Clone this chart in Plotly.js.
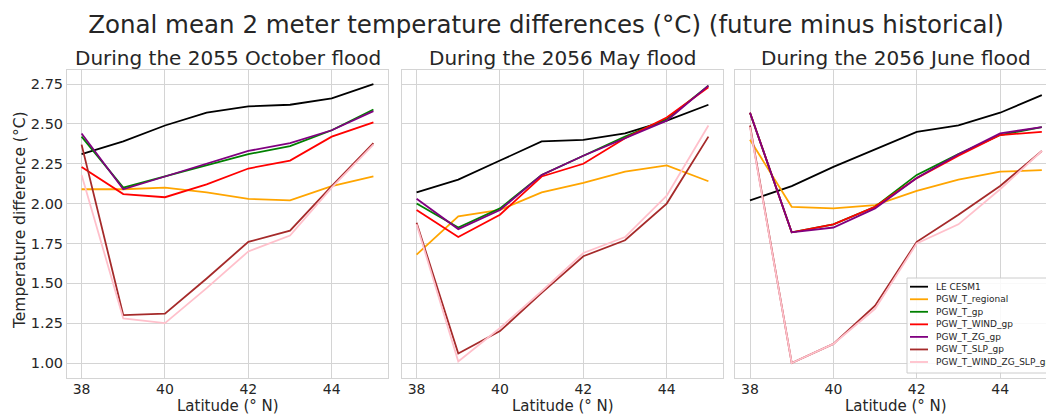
<!DOCTYPE html>
<html>
<head>
<meta charset="utf-8">
<script src="https://cdn.plot.ly/plotly-3.0.1.min.js"></script>
<style>html,body{margin:0;padding:0;background:#fff;}#chart{width:1046px;height:414px;}</style>
</head>
<body>
<div id="chart"></div>
<script>
// ---- data ----
var latitudes = [38, 39, 40, 41, 42, 43, 44, 45];
var seriesNames = ["LE CESM1", "PGW_T_regional", "PGW_T_gp", "PGW_T_WIND_gp", "PGW_T_ZG_gp", "PGW_T_SLP_gp", "PGW_T_WIND_ZG_SLP_gp"];
var seriesColors = ["#000000", "#ffa500", "#008000", "#ff0000", "#800080", "#a52a2a", "#ffc0cb"];
var panelTitles = ["During the 2055 October flood", "During the 2056 May flood", "During the 2056 June flood"];
var yTicks = [1.00, 1.25, 1.50, 1.75, 2.00, 2.25, 2.50, 2.75];
var xTicks = [38, 40, 42, 44];

// panel 1: 2055 October flood
var oct2055_LE      = [2.31, 2.39, 2.49, 2.57, 2.61, 2.62, 2.66, 2.75];
var oct2055_Treg    = [2.09, 2.09, 2.10, 2.07, 2.03, 2.02, 2.11, 2.17];
var oct2055_Tgp     = [2.42, 2.10, 2.17, 2.24, 2.31, 2.36, 2.46, 2.59];
var oct2055_WIND    = [2.23, 2.06, 2.04, 2.12, 2.22, 2.27, 2.42, 2.51];
var oct2055_ZG      = [2.44, 2.09, 2.17, 2.25, 2.33, 2.38, 2.46, 2.58];
var oct2055_SLP     = [2.37, 1.30, 1.31, 1.53, 1.76, 1.83, 2.11, 2.38];
var oct2055_ALL     = [2.18, 1.28, 1.25, 1.47, 1.70, 1.80, 2.10, 2.37];

// panel 2: 2056 May flood
var may2056_LE      = [2.07, 2.15, 2.27, 2.39, 2.40, 2.44, 2.52, 2.62];
var may2056_Treg    = [1.68, 1.92, 1.96, 2.07, 2.13, 2.20, 2.24, 2.14];
var may2056_Tgp     = [2.00, 1.85, 1.97, 2.18, 2.30, 2.42, 2.53, 2.74];
var may2056_WIND    = [1.96, 1.79, 1.93, 2.17, 2.25, 2.41, 2.54, 2.73];
var may2056_ZG      = [2.03, 1.84, 1.96, 2.18, 2.30, 2.41, 2.52, 2.74];
var may2056_SLP     = [1.88, 1.06, 1.20, 1.44, 1.67, 1.77, 2.00, 2.42];
var may2056_ALL     = [1.87, 1.01, 1.22, 1.45, 1.69, 1.79, 2.05, 2.49];

// panel 3: 2056 June flood
var jun2056_LE      = [2.02, 2.11, 2.23, 2.34, 2.45, 2.49, 2.57, 2.68];
var jun2056_Treg    = [2.40, 1.98, 1.97, 1.99, 2.08, 2.15, 2.20, 2.21];
var jun2056_Tgp     = [2.57, 1.82, 1.87, 1.98, 2.18, 2.31, 2.43, 2.48];
var jun2056_WIND    = [2.57, 1.82, 1.87, 1.98, 2.16, 2.30, 2.43, 2.45];
var jun2056_ZG      = [2.57, 1.82, 1.85, 1.97, 2.16, 2.31, 2.44, 2.48];
var jun2056_SLP     = [2.49, 1.00, 1.12, 1.36, 1.76, 1.93, 2.11, 2.33];
var jun2056_ALL     = [2.48, 1.00, 1.12, 1.34, 1.75, 1.87, 2.09, 2.33];

var panels = [
  [oct2055_LE, oct2055_Treg, oct2055_Tgp, oct2055_WIND, oct2055_ZG, oct2055_SLP, oct2055_ALL],
  [may2056_LE, may2056_Treg, may2056_Tgp, may2056_WIND, may2056_ZG, may2056_SLP, may2056_ALL],
  [jun2056_LE, jun2056_Treg, jun2056_Tgp, jun2056_WIND, jun2056_ZG, jun2056_SLP, jun2056_ALL]
];

// ---- build ----
var W = 1046, H = 414;
var font = "DejaVu Sans, Verdana, sans-serif";
var textCol = "#262626";
var gridCol = "#d4d4d4";

var traces = [];
panels.forEach(function (p, pi) {
  var sfx = pi === 0 ? "" : String(pi + 1);
  p.forEach(function (vals, si) {
    traces.push({
      type: "scatter", mode: "lines",
      x: latitudes, y: vals,
      name: seriesNames[si],
      line: { color: seriesColors[si], width: 1.8 },
      xaxis: "x" + sfx, yaxis: "y" + sfx,
      showlegend: false, hoverinfo: "x+y+name"
    });
  });
});

var px = function (v) { return v / W; };
var py = function (v) { return (H - v) / H; };

var domains = [[px(67), px(388)], [px(402), px(723)], [px(735), 1]];
var xRanges = [[37.65, 45.35], [37.65, 45.35], [37.64, 45.10]];
var titleCenters = [227.5, 562.5, 895.5];
var yDomain = [py(378), py(70)];
var yRange = [0.906, 2.838];

var layout = {
  width: W, height: H,
  margin: { l: 0, r: 0, t: 0, b: 0 },
  paper_bgcolor: "#ffffff", plot_bgcolor: "#ffffff",
  font: { family: font, color: textCol, size: 14 },
  title: {
    text: "Zonal mean 2 meter temperature differences (°C) (future minus historical)",
    font: { family: font, size: 24.5, color: textCol },
    x: 546 / W, xanchor: "center", y: py(24), yanchor: "middle"
  },
  showlegend: false,
  annotations: [],
  shapes: []
};

for (var i = 0; i < 3; i++) {
  var sfx = i === 0 ? "" : String(i + 1);
  layout["xaxis" + sfx] = {
    domain: domains[i], range: xRanges[i], anchor: "y" + sfx,
    tickvals: xTicks, ticks: "", showgrid: true, gridcolor: gridCol, gridwidth: 1,
    zeroline: false, showline: true, linecolor: gridCol, linewidth: 1, mirror: true,
    ticklabelstandoff: -2,
    tickfont: { family: font, size: 14, color: textCol }
  };
  layout["yaxis" + sfx] = {
    domain: yDomain, range: yRange, anchor: "x" + sfx,
    tickvals: yTicks, tickformat: ".2f", ticks: "", showticklabels: i === 0,
    showgrid: true, gridcolor: gridCol, gridwidth: 1,
    zeroline: false, showline: true, linecolor: gridCol, linewidth: 1, mirror: true,
    tickfont: { family: font, size: 14.5, color: textCol }
  };
  // subplot title
  layout.annotations.push({
    text: panelTitles[i], xref: "paper", yref: "paper",
    x: titleCenters[i] / W, y: py(58), xanchor: "center", yanchor: "middle",
    showarrow: false, font: { family: font, size: 20, color: textCol }
  });
  // x-axis title
  layout.annotations.push({
    text: "Latitude (° N)", xref: "paper", yref: "paper",
    x: titleCenters[i] / W, y: py(406), xanchor: "center", yanchor: "middle",
    showarrow: false, font: { family: font, size: 15, color: textCol }
  });
}
// y-axis title
layout.annotations.push({
  text: "Temperature difference (°C)", xref: "paper", yref: "paper",
  x: px(20), y: py(220), xanchor: "center", yanchor: "middle", textangle: -90,
  showarrow: false, font: { family: font, size: 15.5, color: textCol }
});

// legend box (drawn in panel 3, lower right)
layout.shapes.push({
  type: "rect", xref: "paper", yref: "paper",
  x0: px(907), x1: px(1052), y0: py(373), y1: py(278),
  line: { color: "#cccccc", width: 1 }, fillcolor: "rgba(255,255,255,0.85)", layer: "above"
});
seriesNames.forEach(function (name, si) {
  var yc = 286.7 + si * 12.55;
  layout.shapes.push({
    type: "line", xref: "paper", yref: "paper",
    x0: px(910), x1: px(928), y0: py(yc), y1: py(yc),
    line: { color: seriesColors[si], width: 1.8 }, layer: "above"
  });
  layout.annotations.push({
    text: name, xref: "paper", yref: "paper",
    x: px(934), y: py(yc), xanchor: "left", yanchor: "middle",
    showarrow: false, font: { family: font, size: 9, color: textCol }
  });
});

Plotly.newPlot("chart", traces, layout, { displayModeBar: false, staticPlot: true });
</script>
</body>
</html>
